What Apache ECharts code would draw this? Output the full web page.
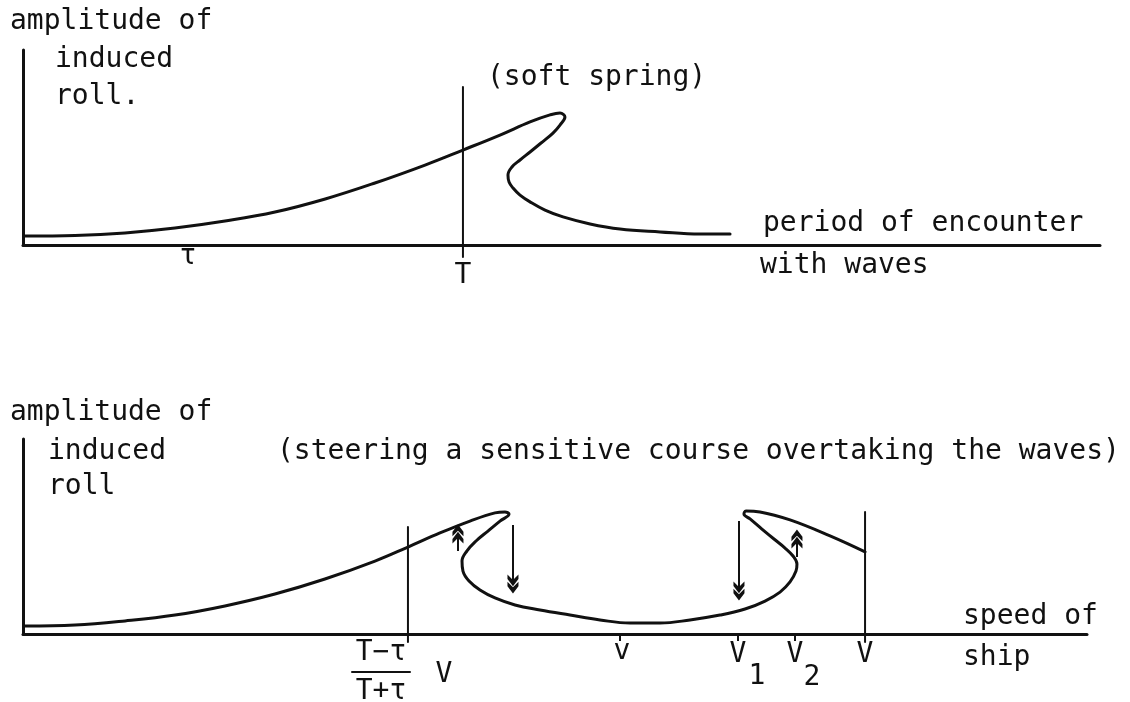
<!DOCTYPE html>
<html><head><meta charset="utf-8">
<script src="https://cdn.jsdelivr.net/npm/echarts@6/dist/echarts.min.js"></script>
<style>html,body{margin:0;background:#fff}#c{width:1130px;height:702px}</style>
</head><body><div id="c"></div>
<script>
// ---- top panel: amplitude of induced roll vs period of encounter (soft spring)
const topCurveX = [0.19, 4.83, 9.47, 14.11, 18.76, 23.40, 28.06, 32.68, 37.33, 40.85, 44.29, 47.08, 48.93, 49.86, 50.32, 49.86, 49.21, 48.10, 47.08, 46.15, 45.40, 45.03, 45.13, 45.50, 46.15, 47.08, 48.47, 50.14, 52.65, 55.43, 59.15, 62.86, 65.65];
const topCurveY = [4.6, 4.9, 6.2, 8.7, 12.3, 16.9, 23.6, 31.8, 41.0, 48.7, 56.4, 63.1, 66.7, 67.7, 65.6, 61.5, 57.4, 52.3, 47.7, 43.6, 40.0, 35.9, 32.3, 29.2, 25.6, 22.1, 17.9, 14.4, 10.8, 8.2, 6.7, 5.6, 5.6];
const topVLineX = 40.85, topVLineY = [81.0, -6.2];
const topTickText = ['τ', 'T'];
const topTickX = [15.32, 40.85];
const topTickY = [-6.2, -15.9];

// ---- bottom panel: amplitude of induced roll vs speed of ship
const botCurveX = [0.19, 4.89, 9.59, 14.29, 18.98, 23.68, 28.38, 33.08, 36.18, 39.19, 42.01, 44.36, 45.30, 45.68, 44.83, 43.70, 42.58, 41.73, 41.26, 41.35, 41.92, 42.95, 44.36, 46.24, 48.59, 51.41, 54.23, 57.05, 59.87, 62.69, 65.51, 67.86, 69.74, 71.15, 72.09, 72.65, 72.74, 72.37, 71.62, 70.58, 69.45, 68.33, 67.76, 67.95, 69.27, 72.09, 75.85, 79.14];
const botCurveY = [4.1, 4.6, 6.7, 9.7, 14.4, 20.5, 28.2, 37.4, 44.6, 51.8, 57.9, 62.1, 62.6, 61.5, 57.9, 52.8, 47.7, 42.6, 37.4, 32.3, 27.2, 22.6, 18.5, 14.9, 12.3, 9.7, 7.2, 5.6, 5.6, 7.2, 9.7, 12.8, 16.9, 21.5, 26.7, 32.3, 35.9, 40.0, 44.1, 48.7, 53.8, 59.0, 61.5, 63.1, 62.6, 58.5, 50.3, 42.1];
const botVLines = [[36.18, 54.9, -4.1], [79.14, 62.6, -4.1]];
// [x, from y, to y] : jump arrows
const botArrows = [[40.88, 42.6, 51.3], [46.05, 55.9, 25.6], [67.29, 57.9, 22.0], [72.74, 39.5, 48.7]];
const botTickX = [56.11, 67.20, 72.56];
const botLabelText = ['v', 'V', '1', 'V', '2', 'V', 'T−τ', 'T+τ', 'V'];
const botLabelX = [56.30, 67.20, 68.98, 72.56, 74.15, 79.14, 33.65, 33.65, 39.57];
const botLabelY = [-9.2, -10.8, -22.1, -10.8, -22.6, -10.8, -9.7, -29.7, -21.0];
const fracBarX = [30.92, 36.37], fracBarY = -19.5;

const FONT = 'DejaVu Sans Mono';
const FS = 28;
const ink = '#111';

function pairs(xs, ys) { return xs.map((x, i) => [x, ys[i]]); }

const chev = 'path://M6,0 L12,8 L12,13 L6,7 L0,13 L0,8 Z M6,8 L12,16 L12,21 L6,15 L0,21 L0,16 Z';

function axisX(gi, ticks) {
  return {
    type: 'value', gridIndex: gi, min: 0, max: 100,
    axisLine: { show: true, onZero: false, lineStyle: { color: ink, width: 3, cap: 'round' } },
    axisTick: ticks ? { show: true, customValues: ticks, length: 7, lineStyle: { color: ink, width: 2 } } : { show: false },
    axisLabel: { show: false }, splitLine: { show: false }
  };
}
function axisY(gi) {
  return {
    type: 'value', gridIndex: gi, min: 0, max: 100,
    axisLine: { show: true, lineStyle: { color: ink, width: 3 } },
    axisTick: { show: false }, axisLabel: { show: false }, splitLine: { show: false }
  };
}
function labelSeries(xi, texts, xs, ys) {
  return {
    type: 'scatter', xAxisIndex: xi, yAxisIndex: xi, clip: false, silent: true,
    symbolSize: 1, itemStyle: { color: 'rgba(0,0,0,0)', opacity: 1 },
    label: { show: true, position: 'inside', color: ink, opacity: 1, textBorderWidth: 0,
      fontFamily: FONT, fontSize: FS, formatter: p => texts[p.dataIndex] },
    data: pairs(xs, ys)
  };
}
function lineSeries(xi, data, w) {
  return { type: 'line', xAxisIndex: xi, yAxisIndex: xi, clip: false, silent: true, showSymbol: false,
    symbol: 'none', lineStyle: { color: ink, width: w, cap: 'round', join: 'round' }, data };
}

const topCurve = lineSeries(0, pairs(topCurveX, topCurveY), 3);
topCurve.smooth = 0.4;
const botCurve = lineSeries(1, pairs(botCurveX, botCurveY), 3);
botCurve.smooth = 0.4;

const series = [
  topCurve,
  lineSeries(0, [[topVLineX, topVLineY[0]], [topVLineX, topVLineY[1]]], 2),
  labelSeries(0, topTickText, topTickX, topTickY),
  botCurve,
  ...botVLines.map(v => lineSeries(1, [[v[0], v[1]], [v[0], v[2]]], 2)),
  lineSeries(1, [[fracBarX[0], fracBarY], [fracBarX[1], fracBarY]], 2),
  labelSeries(1, botLabelText, botLabelX, botLabelY),
  {
    type: 'line', xAxisIndex: 1, yAxisIndex: 1, data: [], silent: true,
    markLine: {
      silent: true, symbol: ['none', chev], symbolSize: [11, 19],
      label: { show: false },
      lineStyle: { color: ink, width: 2, type: 'solid' },
      itemStyle: { color: ink },
      data: botArrows.map(a => [{ coord: [a[0], a[1]] }, { coord: [a[0], a[2]] }])
    }
  }
];

function txt(x, y, s) {
  return { type: 'text', x, y, silent: true,
    style: { text: s, fill: ink, font: FS + 'px "' + FONT + '"', verticalAlign: 'middle', align: 'left' } };
}

const chart = echarts.init(document.getElementById('c'), null, { renderer: 'canvas' });
chart.setOption({
  backgroundColor: '#fff',
  animation: false,
  grid: [
    { left: 23, top: 50, width: 1077, height: 195 },
    { left: 23, top: 439, width: 1064, height: 195 }
  ],
  xAxis: [axisX(0, null), axisX(1, botTickX)],
  yAxis: [axisY(0), axisY(1)],
  series,
  graphic: [
    txt(10, 22, 'amplitude of'),
    txt(55, 60, 'induced'),
    txt(55, 97, 'roll.'),
    txt(487, 78, '(soft spring)'),
    txt(763, 224, 'period of encounter'),
    txt(760, 266, 'with waves'),
    txt(10, 413, 'amplitude of'),
    txt(48, 452, 'induced'),
    txt(48, 487, 'roll'),
    txt(277, 452, '(steering a sensitive course overtaking the waves)'),
    txt(963, 617, 'speed of'),
    txt(963, 658, 'ship')
  ]
});
</script>
</body></html>
